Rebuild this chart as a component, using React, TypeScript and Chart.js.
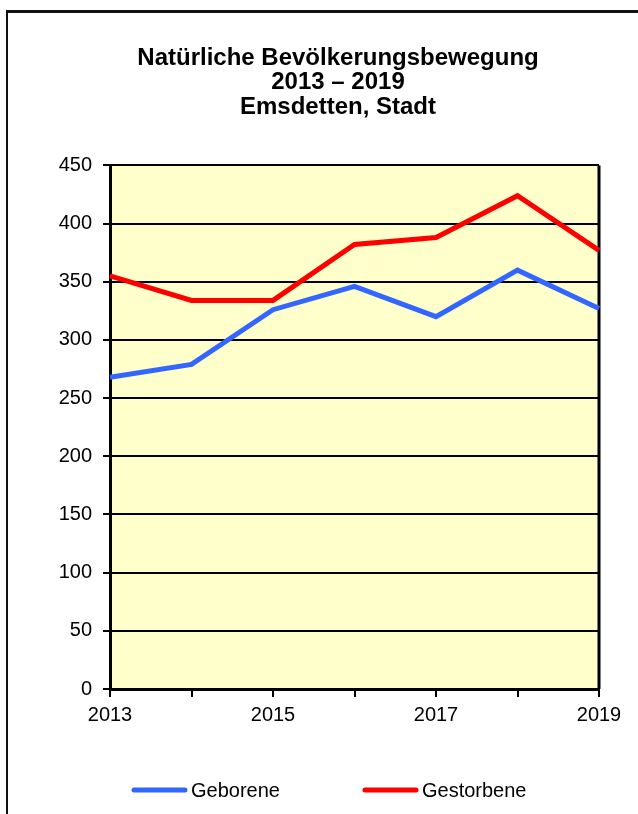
import React, { useEffect, useRef } from "react";
import { Chart, registerables } from "chart.js";

Chart.register(...registerables);

const years = ["2013", "2014", "2015", "2016", "2017", "2018", "2019"];
const geborene = [268, 279, 326, 346, 320, 360, 327];
const gestorbene = [355, 334, 334, 382, 388, 424, 377];
const seriesNames = ["Geborene", "Gestorbene"];
const seriesColors = ["#3366FF", "#FF0000"];
const titleLines = ["Natürliche Bevölkerungsbewegung", "2013 – 2019", "Emsdetten, Stadt"];

const FONT = "'Liberation Sans', Arial, sans-serif";

const plotBg = {
  id: "plotBg",
  beforeDraw(chart: any) {
    const { ctx, chartArea: a } = chart;
    ctx.save();
    ctx.fillStyle = "#FFFFCC";
    ctx.fillRect(a.left, a.top, a.right - a.left, a.bottom - a.top);
    ctx.restore();
  },
  beforeDatasetsDraw(chart: any) {
    const { ctx, chartArea: a } = chart;
    ctx.save();
    ctx.strokeStyle = "#000";
    ctx.lineWidth = 3;
    ctx.beginPath();
    ctx.moveTo(a.right, a.top);
    ctx.lineTo(a.right, a.bottom);
    ctx.stroke();
    ctx.restore();
  },
};

const customLegend = {
  id: "customLegend",
  afterDraw(chart: any) {
    const { ctx } = chart;
    const y = 790;
    let x = 132;
    const lineLen = 55;
    const textGap = 4;
    const itemGap = 83;
    ctx.save();
    ctx.font = `20px ${FONT}`;
    ctx.textBaseline = "middle";
    ctx.textAlign = "left";
    chart.data.datasets.forEach((ds: any) => {
      ctx.strokeStyle = ds.borderColor;
      ctx.lineWidth = 5;
      ctx.lineCap = "round";
      ctx.beginPath();
      ctx.moveTo(x + 2, y);
      ctx.lineTo(x + lineLen - 2, y);
      ctx.stroke();
      ctx.fillStyle = "#000";
      ctx.fillText(ds.label, x + lineLen + textGap, y + 1);
      x += lineLen + textGap + ctx.measureText(ds.label).width + itemGap;
    });
    ctx.restore();
  },
};

export default function App() {
  const ref = useRef<HTMLCanvasElement | null>(null);

  useEffect(() => {
    if (!ref.current) return;
    const chart = new Chart(ref.current, {
      type: "line",
      data: {
        labels: years,
        datasets: [
          {
            label: seriesNames[0],
            data: geborene,
            borderColor: seriesColors[0],
            backgroundColor: seriesColors[0],
            borderWidth: 5,
            pointRadius: 0,
            tension: 0,
          },
          {
            label: seriesNames[1],
            data: gestorbene,
            borderColor: seriesColors[1],
            backgroundColor: seriesColors[1],
            borderWidth: 5,
            pointRadius: 0,
            tension: 0,
          },
        ],
      },
      options: {
        animation: false,
        responsive: false,
        maintainAspectRatio: false,
        layout: { padding: { left: 0, right: 0, top: 0, bottom: 75 } },
        plugins: {
          legend: { display: false },
          tooltip: { enabled: false },
          title: {
            display: true,
            text: titleLines,
            color: "#000",
            font: { family: FONT, size: 24, weight: "bold", lineHeight: 1.02 },
            padding: { top: 46, bottom: 46 },
          },
        },
        scales: {
          x: {
            offset: false,
            grid: {
              drawOnChartArea: false,
              drawTicks: true,
              tickLength: 8,
              color: "#000",
              lineWidth: 2,
            },
            border: { color: "#000", width: 3 },
            ticks: {
              autoSkip: false,
              maxRotation: 0,
              padding: 6,
              color: "#000",
              font: { family: FONT, size: 20, lineHeight: 1.2 },
              callback: (_v: any, i: number) => (i % 2 === 0 ? years[i] : ""),
            },
            afterFit: (s: any) => {
              s.height = 50;
            },
          },
          y: {
            min: 0,
            max: 450,
            grid: {
              color: "#000",
              lineWidth: 2,
              drawTicks: true,
              tickLength: 7,
            },
            border: { color: "#000", width: 3 },
            ticks: {
              stepSize: 50,
              padding: 11,
              color: "#000",
              font: { family: FONT, size: 20 },
            },
            afterFit: (s: any) => {
              s.width = 110;
            },
          },
          yRight: {
            position: "right",
            display: true,
            grid: { display: false, drawTicks: false },
            border: { display: false },
            ticks: { display: false },
            afterFit: (s: any) => {
              s.width = 77;
            },
          },
        },
      },
      plugins: [plotBg, customLegend],
    });
    return () => chart.destroy();
  }, []);

  return (
    <div
      style={{
        position: "fixed",
        left: 0,
        top: 0,
        width: 638,
        height: 814,
        overflow: "hidden",
        background: "#fff",
      }}
    >
      <div
        style={{
          position: "absolute",
          left: 6,
          top: 10,
          width: 700,
          height: 900,
          borderLeft: "2px solid #111",
          borderTop: "3px solid #111",
        }}
      />
      <canvas
        ref={ref}
        width={676}
        height={814}
        style={{ position: "absolute", left: 0, top: 0, width: 676, height: 814 }}
      />
    </div>
  );
}
